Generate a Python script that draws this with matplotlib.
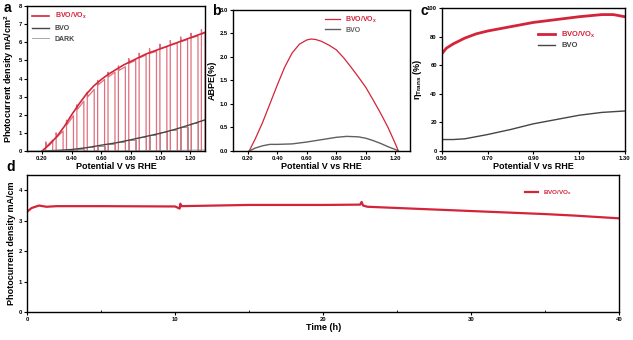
import numpy as np
import matplotlib
matplotlib.use('Agg')
import matplotlib.pyplot as plt
import matplotlib as mpl

# ---------------------------------------------------------------
# Data
# (a) chopped LSV, light-on segments
chop_on = [0.225, 0.295, 0.365, 0.435, 0.505, 0.575, 0.645, 0.715, 0.785,
           0.855, 0.925, 0.995, 1.065, 1.135, 1.205, 1.275]
chop_off = [0.272, 0.342, 0.412, 0.482, 0.552, 0.622, 0.692, 0.762, 0.832,
            0.902, 0.972, 1.042, 1.112, 1.182, 1.252, 1.300]
vox_chop_start = [0.25, 0.75, 1.45, 2.30, 3.00, 3.65, 4.10, 4.45, 4.85,
                  5.15, 5.40, 5.65, 5.85, 6.05, 6.25, 6.45]
vox_chop_end = [0.60, 1.10, 1.95, 2.75, 3.40, 3.95, 4.35, 4.65, 5.00,
                5.30, 5.50, 5.75, 5.95, 6.15, 6.35, 6.55]
bvo_chop = [0.02, 0.04, 0.07, 0.12, 0.20, 0.28, 0.38, 0.50, 0.62,
            0.75, 0.88, 1.02, 1.18, 1.35, 1.52, 1.70]

# (a) continuous light curves
v_lsv = [0.20, 0.25, 0.30, 0.35, 0.40, 0.45, 0.50, 0.55, 0.60, 0.65, 0.70,
         0.75, 0.80, 0.85, 0.90, 0.95, 1.00, 1.05, 1.10, 1.15, 1.20, 1.25, 1.30]
j_vox = [0.00, 0.35, 0.80, 1.35, 2.00, 2.60, 3.15, 3.60, 3.95, 4.25, 4.50,
         4.75, 4.95, 5.15, 5.35, 5.50, 5.65, 5.80, 5.95, 6.10, 6.25, 6.40, 6.55]
v_bvo = [0.20, 0.30, 0.40, 0.50, 0.60, 0.70, 0.80, 0.90, 1.00, 1.10, 1.20, 1.30]
j_bvo = [0.00, 0.03, 0.08, 0.18, 0.32, 0.45, 0.62, 0.80, 0.98, 1.20, 1.45, 1.72]
v_dark = [0.10, 0.40, 0.80, 1.10, 1.30]
j_dark = [0.00, 0.00, 0.01, 0.03, 0.06]

# (b) ABPE
v_abpe = [0.21, 0.25, 0.30, 0.35, 0.40, 0.45, 0.50, 0.55, 0.60, 0.63, 0.66,
          0.70, 0.75, 0.80, 0.85, 0.90, 0.95, 1.00, 1.05, 1.10, 1.15, 1.20, 1.22]
abpe_vox = [0.00, 0.25, 0.60, 1.00, 1.40, 1.78, 2.08, 2.27, 2.36, 2.38, 2.37,
            2.33, 2.25, 2.15, 1.98, 1.78, 1.57, 1.35, 1.08, 0.80, 0.50, 0.15, 0.00]
v_abpe2 = [0.21, 0.25, 0.30, 0.35, 0.40, 0.50, 0.60, 0.70, 0.80, 0.87,
           0.95, 1.00, 1.05, 1.10, 1.15, 1.20, 1.22]
abpe_bvo = [0.00, 0.06, 0.11, 0.14, 0.14, 0.15, 0.19, 0.24, 0.29, 0.31,
            0.30, 0.27, 0.22, 0.16, 0.09, 0.03, 0.00]

# (c) charge transfer efficiency
v_eta = [0.50, 0.52, 0.55, 0.60, 0.65, 0.70, 0.80, 0.90, 1.00, 1.10, 1.20, 1.25, 1.30]
eta_vox = [68, 72, 75, 79, 82, 84, 87, 90, 92, 94, 95.5, 95.5, 94]
v_eta2 = [0.50, 0.55, 0.60, 0.65, 0.70, 0.80, 0.90, 1.00, 1.10, 1.20, 1.30]
eta_bvo = [8, 8, 8.5, 10, 11.5, 15, 19, 22, 25, 27, 28]

# (d) stability
t_h = [0, 0.3, 0.8, 1.3, 2, 5, 10, 10.3, 10.35, 10.4, 15, 20, 22.5, 22.6, 22.7, 23,
       25, 30, 35, 37, 40]
j_t = [3.30, 3.42, 3.50, 3.46, 3.48, 3.48, 3.47, 3.40, 3.56, 3.48, 3.52, 3.52,
       3.53, 3.62, 3.50, 3.46, 3.42, 3.32, 3.22, 3.17, 3.08]

# ---------------------------------------------------------------
plt.rc('font', family='Liberation Sans', weight='bold')
mpl.rcParams['mathtext.fontset'] = 'custom'
mpl.rcParams['mathtext.rm'] = 'Liberation Sans:bold'
mpl.rcParams['mathtext.it'] = 'Liberation Sans:bold'
mpl.rcParams['mathtext.bf'] = 'Liberation Sans:bold'
mpl.rcParams['axes.linewidth'] = 1.0
mpl.rcParams['xtick.major.size'] = 2
mpl.rcParams['ytick.major.size'] = 2
mpl.rcParams['xtick.major.width'] = 0.8
mpl.rcParams['ytick.major.width'] = 0.8

red = '#d4243a'
pink = '#e0707e'
grey = '#454545'
tsize = 4.2
lsize = 6.5

fig = plt.figure(figsize=(6.33, 3.40), dpi=100)


def style(ax):
    ax.tick_params(labelsize=tsize, pad=1.5)
    for lab in ax.get_xticklabels() + ax.get_yticklabels():
        lab.set_fontweight('bold')


# Figure a
ax = fig.add_axes([0.043, 0.556, 0.281, 0.426])
xs, ys, xb, yb = [], [], [], []
for k in range(len(chop_on)):
    xs += [chop_on[k], chop_on[k], chop_on[k] + 0.004, chop_off[k], chop_off[k]]
    ys += [0, vox_chop_start[k] + 0.25, vox_chop_start[k], vox_chop_end[k], 0]
    xb += [chop_on[k], chop_on[k], chop_off[k], chop_off[k]]
    yb += [0, bvo_chop[k], bvo_chop[k], 0]
ax.plot(xb, yb, '-', color='#8a8a8a', lw=0.6)
ax.plot(xs, ys, '-', color=pink, lw=0.9)
ax.plot(v_lsv, j_vox, '-', color=red, lw=1.2, label=r'BVO/VO$_x$')
ax.plot(v_bvo, j_bvo, '-', color=grey, lw=1.0, label='BVO')
ax.plot(v_dark, j_dark, '-', color='#9a9a9a', lw=0.6, label='DARK')
ax.set_xlim(0.1, 1.3)
ax.set_ylim(0, 8)
ax.set_xticks([0.2, 0.4, 0.6, 0.8, 1.0, 1.2])
ax.set_xticklabels(['0.20', '0.40', '0.60', '0.80', '1.00', '1.20'])
ax.set_yticks(range(0, 9))
ax.set_xlabel('Potential V vs RHE', fontsize=lsize, fontweight='bold', labelpad=1)
ax.set_ylabel(r'Photocurrent density mA/cm$^2$', fontsize=lsize, fontweight='bold', labelpad=2)
leg = ax.legend(loc='upper left', fontsize=5, frameon=False, handlelength=2.5,
                labelspacing=0.55, borderaxespad=0.3)
for t, c in zip(leg.get_texts(), [red, grey, grey]):
    t.set_color(c)
style(ax)

# Figure b
ax = fig.add_axes([0.368, 0.556, 0.280, 0.415])
ax.plot(v_abpe, abpe_vox, '-', color=red, lw=0.9, label=r'BVO/VO$_x$')
ax.plot(v_abpe2, abpe_bvo, '-', color='#606060', lw=1.0, label='BVO')
ax.set_xlim(0.1, 1.3)
ax.set_ylim(0, 3.0)
ax.set_xticks([0.2, 0.4, 0.6, 0.8, 1.0, 1.2])
ax.set_xticklabels(['0.20', '0.40', '0.60', '0.80', '1.00', '1.20'])
ax.set_yticks([0.0, 0.5, 1.0, 1.5, 2.0, 2.5, 3.0])
ax.set_yticklabels(['0.0', '0.5', '1.0', '1.5', '2.0', '2.5', '3.0'])
ax.set_xlabel('Potential V vs RHE', fontsize=lsize, fontweight='bold', labelpad=1)
ax.set_ylabel('ABPE(%)', fontsize=lsize, fontweight='bold', labelpad=2)
leg = ax.legend(loc='center right', bbox_to_anchor=(0.85, 0.90), fontsize=5,
                frameon=False, handlelength=2.2, labelspacing=0.3)
for t, c in zip(leg.get_texts(), [red, '#606060']):
    t.set_color(c)
style(ax)

# Figure c
ax = fig.add_axes([0.698, 0.556, 0.289, 0.420])
ax.plot(v_eta, eta_vox, '-', color=red, lw=2.0, label=r'BVO/VO$_x$')
ax.plot(v_eta2, eta_bvo, '-', color=grey, lw=1.0, label='BVO')
ax.set_xlim(0.5, 1.3)
ax.set_ylim(0, 100)
ax.set_xticks([0.5, 0.7, 0.9, 1.1, 1.3])
ax.set_xticklabels(['0.50', '0.70', '0.90', '1.10', '1.30'])
ax.set_yticks(range(0, 101, 20))
ax.set_xlabel('Potential V vs RHE', fontsize=lsize, fontweight='bold', labelpad=1)
ax.set_ylabel(r'$\eta_{\rm Trans}$ (%)', fontsize=lsize, fontweight='bold', labelpad=2)
leg = ax.legend(loc='center right', bbox_to_anchor=(0.88, 0.78), fontsize=5.5,
                frameon=False, handlelength=2.2, labelspacing=0.3)
for t, c in zip(leg.get_texts(), [red, grey]):
    t.set_color(c)
style(ax)

# Figure d
ax = fig.add_axes([0.043, 0.082, 0.935, 0.403])
ax.plot(t_h, j_t, '-', color=red, lw=1.6, label=r'BVO/VO$_x$')
ax.set_xlim(0, 40)
ax.set_ylim(0, 4.5)
ax.set_xticks([0, 10, 20, 30, 40])
ax.set_xticks([5, 15, 25, 35], minor=True)
ax.tick_params(which='minor', direction='in', length=1.5)
ax.set_yticks(range(0, 5))
ax.set_xlabel('Time (h)', fontsize=lsize, fontweight='bold', labelpad=1)
ax.set_ylabel('Photocurrent density mA/cm', fontsize=lsize, fontweight='bold', labelpad=2)
leg = ax.legend(loc='center right', bbox_to_anchor=(0.93, 0.87), fontsize=4.5,
                frameon=False, handlelength=2.2)
leg.get_texts()[0].set_color(red)
style(ax)

# Panel letters
for s, x, y in [('a', 0.006, 0.975), ('b', 0.335, 0.968), ('c', 0.664, 0.968),
                ('d', 0.010, 0.508)]:
    fig.text(x, y, s, fontsize=10, fontweight='bold', va='center')

plt.savefig('out.png', dpi=100)
plt.close()
